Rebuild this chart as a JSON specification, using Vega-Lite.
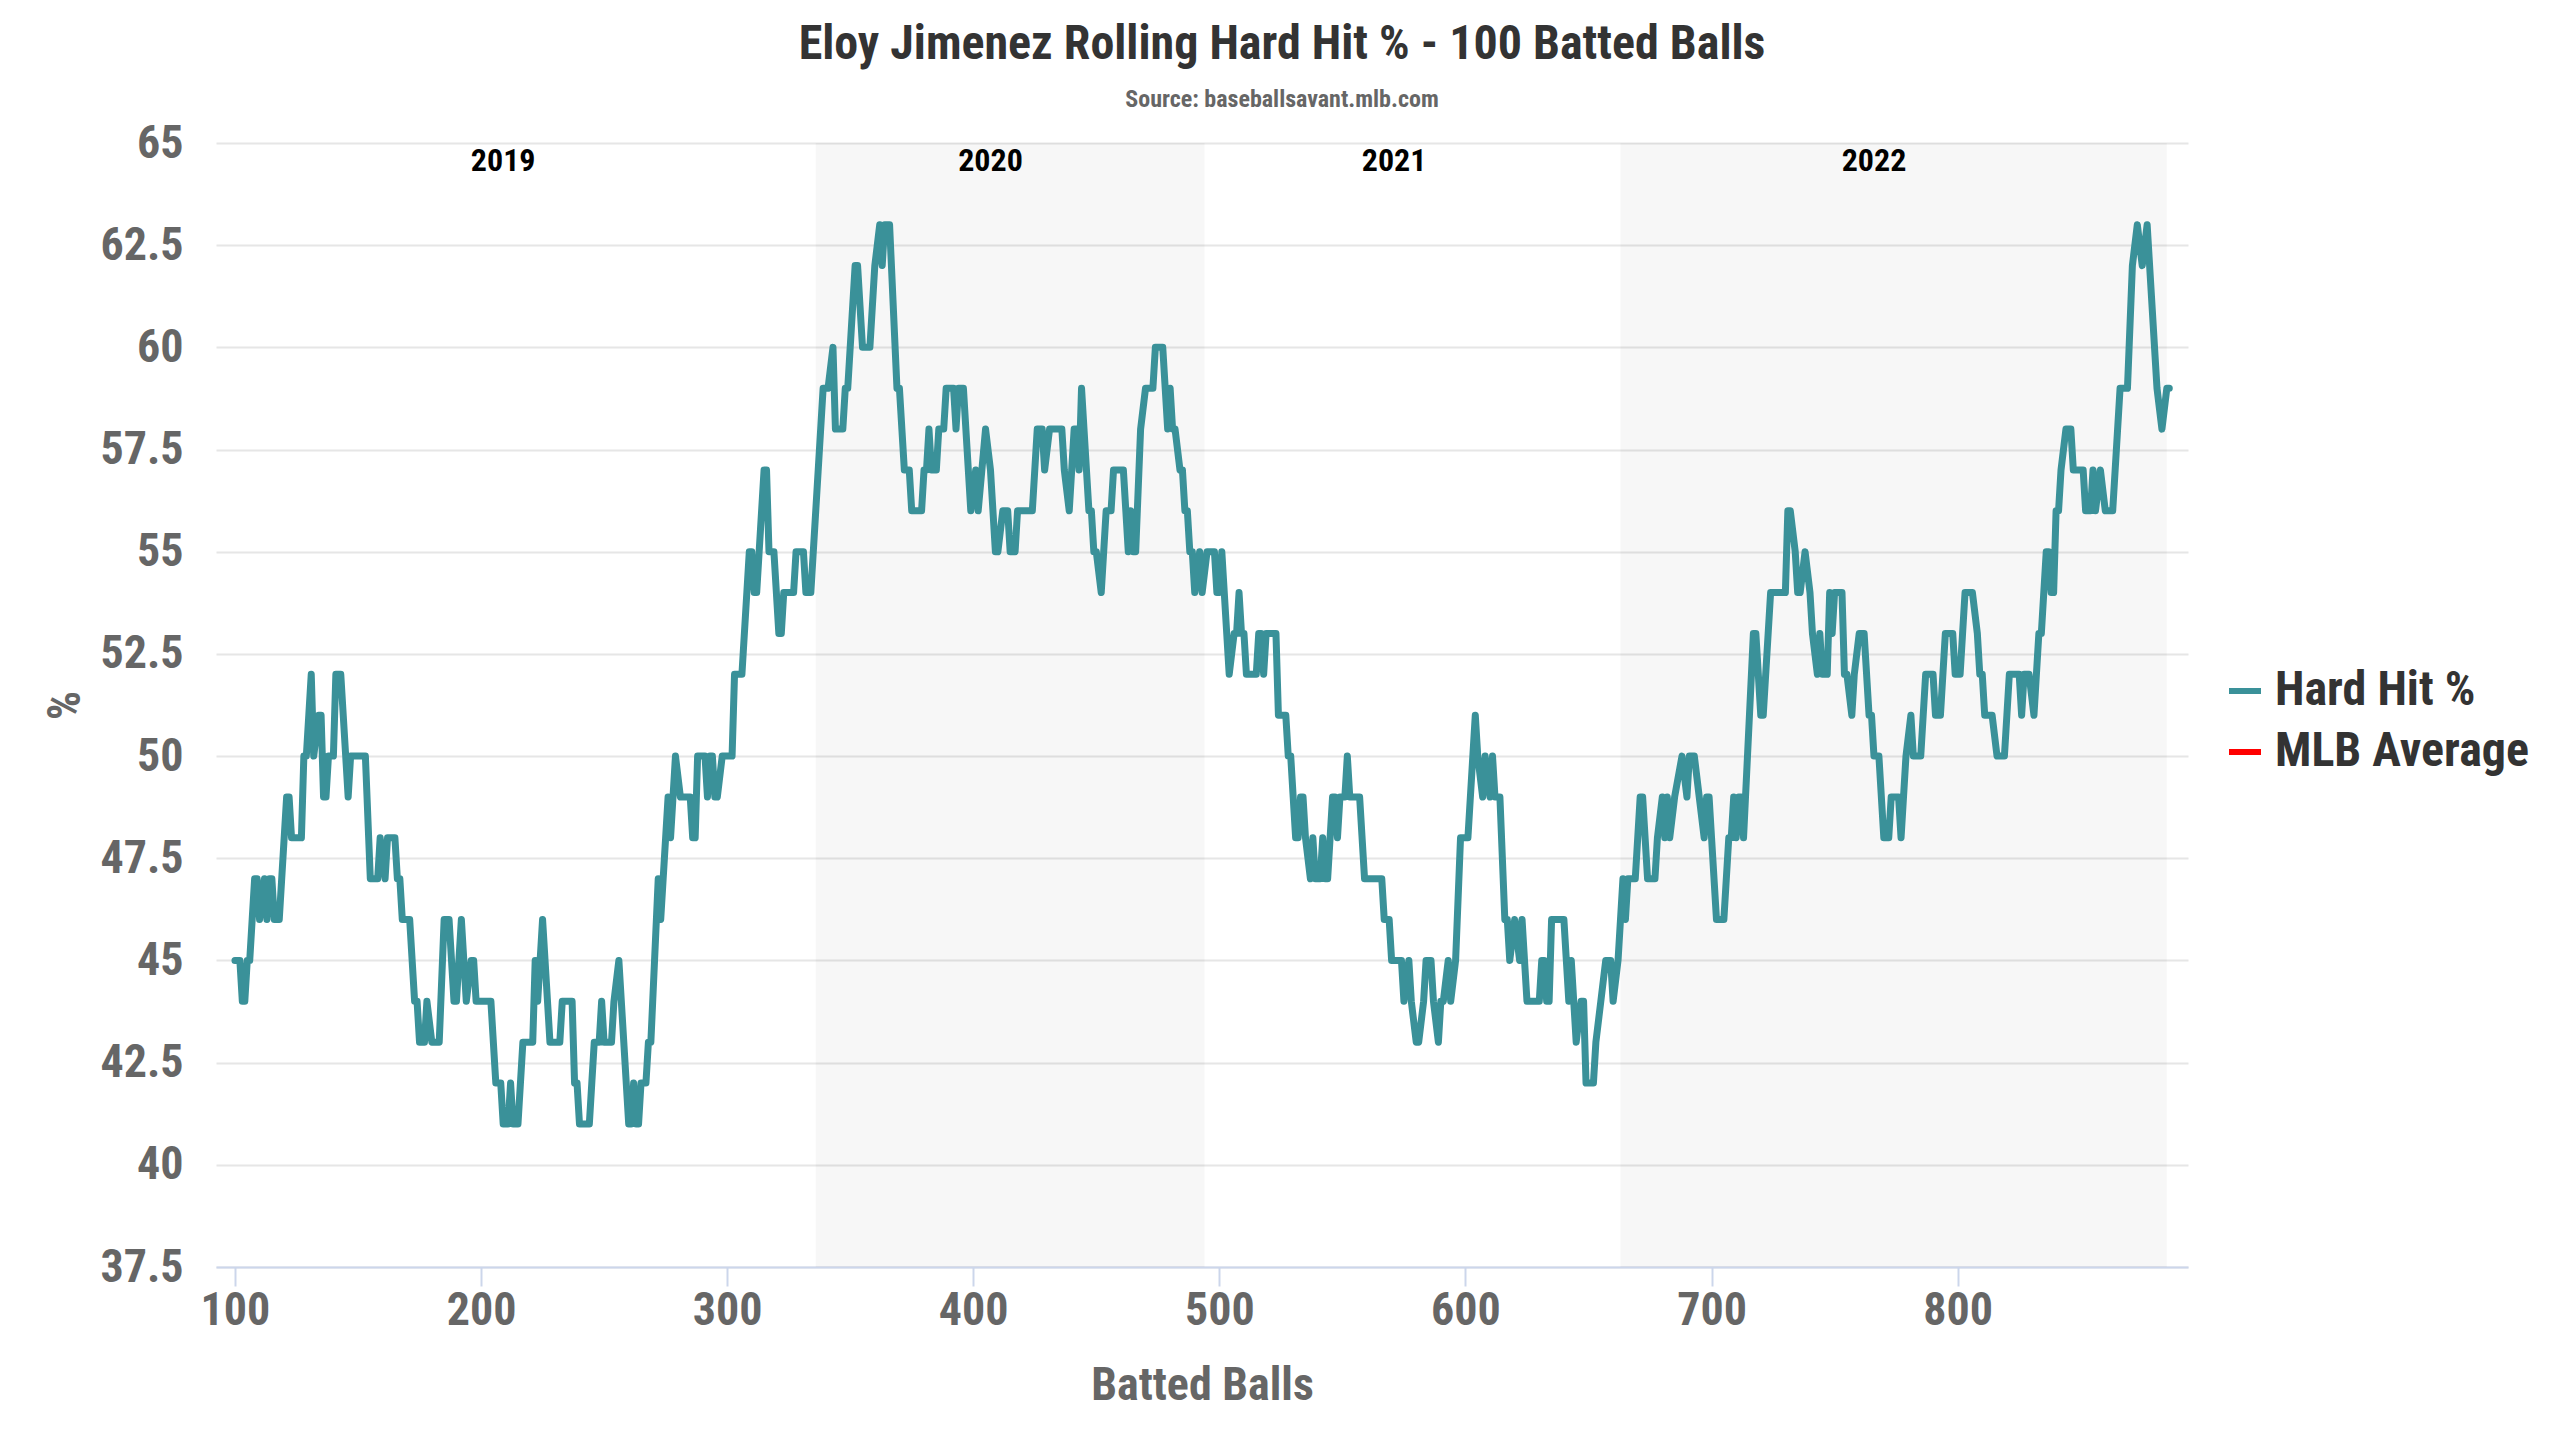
{
  "$schema": "https://vega.github.io/schema/vega-lite/v6.json",
  "autosize": {"type": "none"},
  "padding": {"left": 216, "top": 143, "right": 372, "bottom": 173},
  "width": 1972,
  "height": 1124,
  "background": "#ffffff",
  "title": {
    "text": "Eloy Jimenez Rolling Hard Hit % - 100 Batted Balls",
    "subtitle": "Source: baseballsavant.mlb.com",
    "anchor": "middle",
    "frame": "group",
    "dx": 80,
    "offset": 8,
    "fontSize": 48,
    "fontWeight": "bold",
    "color": "#333333",
    "subtitleFontSize": 24,
    "subtitleFontWeight": "bold",
    "subtitleColor": "#666666",
    "subtitlePadding": 19
  },
  "config": {
    "font": "Roboto Condensed, Liberation Sans Narrow, Roboto, sans-serif",
    "view": {"stroke": null}
  },
  "datasets": {
    "years": [
      {"year": "2019", "start": 92, "end": 336, "label_at": 209},
      {"year": "2020", "start": 336, "end": 494, "label_at": 407},
      {"year": "2021", "start": 494, "end": 663, "label_at": 571},
      {"year": "2022", "start": 663, "end": 885, "label_at": 766}
    ],
    "hardhit": [
      {"b":100,"v":45},{"b":102,"v":45},{"b":103,"v":44},{"b":104,"v":44},{"b":105,"v":45},{"b":106,"v":45},{"b":107,"v":46},{"b":108,"v":47},{"b":109,"v":47},{"b":110,"v":46},{"b":112,"v":47},{"b":113,"v":46},{"b":114,"v":47},{"b":115,"v":47},{"b":116,"v":46},{"b":118,"v":46},{"b":121,"v":49},{"b":122,"v":49},{"b":123,"v":48},{"b":127,"v":48},{"b":128,"v":50},{"b":129,"v":50},{"b":131,"v":52},{"b":132,"v":50},{"b":134,"v":51},{"b":135,"v":51},{"b":136,"v":49},{"b":137,"v":49},{"b":138,"v":50},{"b":140,"v":50},{"b":141,"v":52},{"b":143,"v":52},{"b":145,"v":50},{"b":146,"v":49},{"b":147,"v":50},{"b":153,"v":50},{"b":155,"v":47},{"b":158,"v":47},{"b":159,"v":48},{"b":161,"v":47},{"b":162,"v":48},{"b":165,"v":48},{"b":166,"v":47},{"b":167,"v":47},{"b":168,"v":46},{"b":171,"v":46},{"b":173,"v":44},{"b":174,"v":44},{"b":175,"v":43},{"b":177,"v":43},{"b":178,"v":44},{"b":180,"v":43},{"b":183,"v":43},{"b":185,"v":46},{"b":187,"v":46},{"b":189,"v":44},{"b":190,"v":44},{"b":192,"v":46},{"b":193,"v":45},{"b":194,"v":44},{"b":196,"v":45},{"b":197,"v":45},{"b":198,"v":44},{"b":204,"v":44},{"b":206,"v":42},{"b":208,"v":42},{"b":209,"v":41},{"b":211,"v":41},{"b":212,"v":42},{"b":213,"v":41},{"b":215,"v":41},{"b":217,"v":43},{"b":221,"v":43},{"b":222,"v":45},{"b":223,"v":44},{"b":225,"v":46},{"b":228,"v":43},{"b":232,"v":43},{"b":233,"v":44},{"b":237,"v":44},{"b":238,"v":42},{"b":239,"v":42},{"b":240,"v":41},{"b":244,"v":41},{"b":245,"v":42},{"b":246,"v":43},{"b":248,"v":43},{"b":249,"v":44},{"b":250,"v":43},{"b":253,"v":43},{"b":254,"v":44},{"b":256,"v":45},{"b":260,"v":41},{"b":261,"v":41},{"b":262,"v":42},{"b":263,"v":41},{"b":264,"v":41},{"b":265,"v":42},{"b":267,"v":42},{"b":268,"v":43},{"b":269,"v":43},{"b":272,"v":47},{"b":273,"v":46},{"b":276,"v":49},{"b":277,"v":48},{"b":279,"v":50},{"b":281,"v":49},{"b":285,"v":49},{"b":286,"v":48},{"b":287,"v":48},{"b":288,"v":50},{"b":291,"v":50},{"b":292,"v":49},{"b":293,"v":50},{"b":294,"v":50},{"b":295,"v":49},{"b":296,"v":49},{"b":298,"v":50},{"b":302,"v":50},
      {"b":303,"v":52},{"b":306,"v":52},{"b":309,"v":55},{"b":310,"v":55},{"b":311,"v":54},{"b":312,"v":54},{"b":315,"v":57},{"b":316,"v":57},{"b":317,"v":55},{"b":319,"v":55},{"b":321,"v":53},{"b":322,"v":53},{"b":323,"v":54},{"b":327,"v":54},{"b":328,"v":55},{"b":331,"v":55},{"b":332,"v":54},{"b":334,"v":54},{"b":339,"v":59},{"b":341,"v":59},{"b":343,"v":60},{"b":344,"v":58},{"b":347,"v":58},{"b":348,"v":59},{"b":349,"v":59},{"b":352,"v":62},{"b":353,"v":62},{"b":354,"v":61},{"b":355,"v":60},{"b":358,"v":60},{"b":360,"v":62},{"b":362,"v":63},{"b":363,"v":62},{"b":364,"v":63},{"b":366,"v":63},{"b":369,"v":59},{"b":370,"v":59},{"b":372,"v":57},{"b":374,"v":57},{"b":375,"v":56},{"b":379,"v":56},{"b":380,"v":57},{"b":381,"v":57},{"b":382,"v":58},{"b":383,"v":57},{"b":385,"v":57},{"b":386,"v":58},{"b":388,"v":58},{"b":389,"v":59},{"b":392,"v":59},{"b":393,"v":58},{"b":394,"v":59},{"b":396,"v":59},{"b":399,"v":56},{"b":401,"v":57},{"b":402,"v":56},{"b":405,"v":58},{"b":407,"v":57},{"b":409,"v":55},{"b":410,"v":55},{"b":412,"v":56},{"b":414,"v":56},{"b":415,"v":55},{"b":417,"v":55},{"b":418,"v":56},{"b":424,"v":56},
      {"b":426,"v":58},{"b":428,"v":58},{"b":429,"v":57},{"b":431,"v":58},{"b":436,"v":58},{"b":437,"v":57},{"b":439,"v":56},{"b":440,"v":57},{"b":441,"v":58},{"b":442,"v":58},{"b":443,"v":57},{"b":444,"v":59},{"b":447,"v":56},{"b":448,"v":56},{"b":449,"v":55},{"b":450,"v":55},{"b":452,"v":54},{"b":454,"v":56},{"b":456,"v":56},{"b":457,"v":57},{"b":461,"v":57},{"b":462,"v":56},{"b":463,"v":55},{"b":464,"v":56},{"b":465,"v":55},{"b":466,"v":55},{"b":468,"v":58},{"b":470,"v":59},{"b":473,"v":59},{"b":474,"v":60},{"b":477,"v":60},{"b":478,"v":59},{"b":479,"v":58},{"b":480,"v":59},{"b":481,"v":58},{"b":482,"v":58},{"b":484,"v":57},{"b":485,"v":57},{"b":486,"v":56},{"b":487,"v":56},{"b":488,"v":55},{"b":489,"v":55},{"b":490,"v":54},{"b":492,"v":55},{"b":493,"v":54},{"b":495,"v":55},{"b":498,"v":55},{"b":499,"v":54},{"b":500,"v":54},{"b":501,"v":55},{"b":504,"v":52},{"b":506,"v":53},{"b":507,"v":53},{"b":508,"v":54},{"b":509,"v":53},{"b":510,"v":53},{"b":511,"v":52},{"b":515,"v":52},{"b":516,"v":53},{"b":517,"v":53},{"b":518,"v":52},{"b":519,"v":53},{"b":523,"v":53},{"b":524,"v":51},{"b":527,"v":51},{"b":528,"v":50},{"b":529,"v":50},{"b":530,"v":49},{"b":531,"v":48},{"b":532,"v":48},{"b":533,"v":49},{"b":534,"v":49},{"b":535,"v":48},{"b":537,"v":47},{"b":538,"v":48},{"b":539,"v":47},{"b":541,"v":47},{"b":542,"v":48},{"b":543,"v":47},{"b":544,"v":47},{"b":546,"v":49},{"b":547,"v":49},{"b":548,"v":48},{"b":549,"v":49},{"b":551,"v":49},{"b":552,"v":50},{"b":553,"v":49},{"b":557,"v":49},{"b":559,"v":47},{"b":566,"v":47},{"b":567,"v":46},{"b":569,"v":46},{"b":570,"v":45},{"b":574,"v":45},{"b":575,"v":44},{"b":577,"v":45},{"b":578,"v":44},{"b":580,"v":43},{"b":581,"v":43},{"b":583,"v":44},{"b":584,"v":45},{"b":586,"v":45},{"b":587,"v":44},{"b":589,"v":43},{"b":590,"v":44},{"b":591,"v":44},{"b":593,"v":45},{"b":594,"v":44},{"b":596,"v":45},{"b":598,"v":48},{"b":601,"v":48},{"b":604,"v":51},{"b":605,"v":50},{"b":607,"v":49},{"b":608,"v":50},{"b":610,"v":49},{"b":611,"v":50},{"b":612,"v":49},{"b":614,"v":49},
      {"b":616,"v":46},{"b":617,"v":46},{"b":618,"v":45},{"b":620,"v":46},{"b":622,"v":45},{"b":623,"v":46},{"b":625,"v":44},{"b":630,"v":44},{"b":631,"v":45},{"b":632,"v":45},{"b":633,"v":44},{"b":634,"v":44},{"b":635,"v":46},{"b":640,"v":46},{"b":641,"v":45},{"b":642,"v":44},{"b":643,"v":45},{"b":645,"v":43},{"b":647,"v":44},{"b":648,"v":44},{"b":649,"v":42},{"b":652,"v":42},{"b":653,"v":43},{"b":655,"v":44},{"b":657,"v":45},{"b":659,"v":45},{"b":660,"v":44},{"b":662,"v":45},{"b":664,"v":47},{"b":665,"v":46},{"b":666,"v":47},{"b":669,"v":47},{"b":671,"v":49},{"b":672,"v":49},{"b":674,"v":47},{"b":677,"v":47},{"b":678,"v":48},{"b":680,"v":49},{"b":681,"v":48},{"b":682,"v":49},{"b":683,"v":48},{"b":685,"v":49},{"b":688,"v":50},{"b":690,"v":49},{"b":691,"v":50},{"b":693,"v":50},{"b":695,"v":49},{"b":697,"v":48},{"b":698,"v":49},{"b":699,"v":49},{"b":700,"v":48},{"b":702,"v":46},{"b":705,"v":46},{"b":707,"v":48},{"b":708,"v":48},{"b":709,"v":49},{"b":710,"v":48},{"b":711,"v":49},{"b":712,"v":49},{"b":713,"v":48},{"b":717,"v":53},{"b":718,"v":53},{"b":720,"v":51},{"b":721,"v":51},{"b":722,"v":52},{"b":724,"v":54},{"b":730,"v":54},{"b":731,"v":56},{"b":732,"v":56},{"b":734,"v":55},{"b":735,"v":54},{"b":736,"v":54},{"b":738,"v":55},{"b":740,"v":54},{"b":741,"v":53},{"b":743,"v":52},{"b":744,"v":53},{"b":745,"v":52},{"b":747,"v":52},{"b":748,"v":54},{"b":749,"v":53},{"b":750,"v":54},{"b":753,"v":54},{"b":754,"v":52},{"b":755,"v":52},{"b":757,"v":51},{"b":758,"v":52},{"b":760,"v":53},{"b":762,"v":53},{"b":764,"v":51},{"b":765,"v":51},{"b":766,"v":50},{"b":768,"v":50},{"b":770,"v":48},{"b":772,"v":48},{"b":773,"v":49},{"b":776,"v":49},{"b":777,"v":48},{"b":779,"v":50},{"b":781,"v":51},{"b":782,"v":50},{"b":785,"v":50},{"b":787,"v":52},{"b":790,"v":52},{"b":791,"v":51},{"b":793,"v":51},{"b":795,"v":53},{"b":798,"v":53},{"b":799,"v":52},{"b":801,"v":52},
      {"b":802,"v":53},{"b":803,"v":54},{"b":806,"v":54},{"b":808,"v":53},{"b":809,"v":52},{"b":810,"v":52},{"b":811,"v":51},{"b":814,"v":51},{"b":816,"v":50},{"b":819,"v":50},{"b":821,"v":52},{"b":825,"v":52},{"b":826,"v":51},{"b":827,"v":52},{"b":829,"v":52},{"b":831,"v":51},{"b":833,"v":53},{"b":834,"v":53},{"b":836,"v":55},{"b":837,"v":55},{"b":838,"v":54},{"b":839,"v":54},{"b":840,"v":56},{"b":841,"v":56},{"b":842,"v":57},{"b":844,"v":58},{"b":846,"v":58},{"b":847,"v":57},{"b":851,"v":57},{"b":852,"v":56},{"b":854,"v":56},{"b":855,"v":57},{"b":856,"v":56},{"b":858,"v":57},{"b":860,"v":56},{"b":863,"v":56},{"b":866,"v":59},{"b":869,"v":59},{"b":871,"v":62},{"b":873,"v":63},{"b":875,"v":62},{"b":877,"v":63},{"b":881,"v":59},{"b":883,"v":58},{"b":885,"v":59},{"b":886,"v":59}
    ]
  },
  "layer": [
    {
      "data": {"name": "years"},
      "transform": [{"filter": "datum.year == '2020' || datum.year == '2022'"}],
      "mark": {"type": "rect", "fill": "#000000", "fillOpacity": 0.031},
      "encoding": {
        "x": {"field": "start", "type": "quantitative"},
        "x2": {"field": "end"},
        "y": {"datum": 65},
        "y2": {"datum": 37.5}
      }
    },
    {
      "data": {"name": "years"},
      "mark": {"type": "text", "fontSize": 32, "fontWeight": "bold", "color": "#000000", "align": "center", "baseline": "middle"},
      "encoding": {
        "x": {"field": "label_at", "type": "quantitative"},
        "y": {"datum": 64.55},
        "text": {"field": "year"}
      }
    },
    {
      "data": {"name": "hardhit"},
      "mark": {"type": "line", "strokeWidth": 7, "strokeJoin": "round", "strokeCap": "round"},
      "encoding": {
        "x": {
          "field": "b",
          "type": "quantitative",
          "scale": {"domain": [92.3, 893.6], "nice": false, "zero": false},
          "axis": {
            "values": [100, 200, 300, 400, 500, 600, 700, 800],
            "grid": false,
            "domainColor": "#ccd6eb",
            "domainWidth": 2,
            "tickColor": "#ccd6eb",
            "tickWidth": 2,
            "tickSize": 19,
            "labelFontSize": 46,
            "labelFontWeight": "bold",
            "labelColor": "#666666",
            "labelPadding": 2,
            "title": "Batted Balls",
            "titleFontSize": 46,
            "titleFontWeight": "bold",
            "titleColor": "#666666",
            "titlePadding": 30
          }
        },
        "y": {
          "field": "v",
          "type": "quantitative",
          "scale": {"domain": [37.5, 65], "nice": false, "zero": false},
          "axis": {
            "values": [37.5, 40, 42.5, 45, 47.5, 50, 52.5, 55, 57.5, 60, 62.5, 65],
            "format": ".1~f",
            "domain": false,
            "ticks": false,
            "grid": true,
            "gridColor": "#e6e6e6",
            "gridWidth": 2,
            "labelFontSize": 46,
            "labelFontWeight": "bold",
            "labelColor": "#666666",
            "labelPadding": 33,
            "title": "%",
            "titleFontSize": 46,
            "titleFontWeight": "bold",
            "titleColor": "#666666",
            "titlePadding": 10
          }
        },
        "color": {
          "datum": "Hard Hit %",
          "scale": {"domain": ["Hard Hit %", "MLB Average"], "range": ["#3a9199", "#ff0000"]},
          "legend": {
            "title": null,
            "orient": "none",
            "legendX": 2005,
            "legendY": 524,
            "symbolType": "stroke",
            "symbolSize": 1024,
            "symbolStrokeWidth": 6,
            "labelFontSize": 48,
            "labelFontWeight": "bold",
            "labelColor": "#333333",
            "labelOffset": 6,
            "labelLimit": 600,
            "rowPadding": 13
          }
        }
      }
    }
  ]
}
